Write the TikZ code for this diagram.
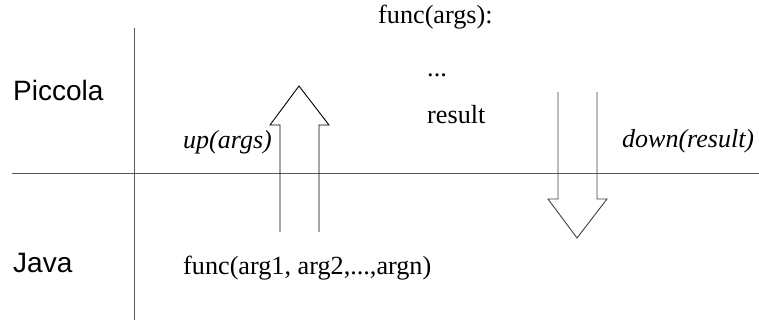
\documentclass[tikz,border=0pt]{standalone}
\usepackage{fontspec}
\setmainfont{Liberation Serif}
\newfontfamily\labelsans{Liberation Sans}
\begin{document}
\begin{tikzpicture}[x=1pt,y=-1pt,
  axis/.style={draw=black!65,line width=1pt},
  fatarrow/.style={draw=black,line width=0.9pt,line join=miter},
  layer/.style={anchor=base west,inner sep=0pt,font=\labelsans\fontsize{28}{31}\selectfont},
  code/.style={anchor=base west,inner sep=0pt,font=\fontsize{26.2}{29}\selectfont},
  call/.style={anchor=base west,inner sep=0pt,font=\itshape\fontsize{26}{29}\selectfont}]
  \useasboundingbox (0,0) rectangle (759,320);

  % layer separators
  \coordinate (vtop) at (134,28);
  \coordinate (vbot) at (134,320);
  \coordinate (hleft) at (12,174);
  \coordinate (hright) at (759,174);
  \draw[axis] (vtop) -- (vbot);
  \draw[axis] (hleft) -- (hright);

  % layer names
  \node[layer] (piccola) at (13,101) {Piccola};
  \node[layer] (java) at (13,272) {Java};

  % Piccola side code
  \node[code] (def) at (378,24) {func(args):};
  \node[code] (dots) at (427,77) {...};
  \node[code] (res) at (427,124) {result};

  % Java side call
  \node[code] (jcall) at (183,274) {func(arg1, arg2,...,argn)};

  % transition labels
  \node[call] (up) at (183,149) {up(args)};
  \node[call] (down) at (622,148) {down(result)};

  % upward hollow arrow
  \draw[fatarrow] (280,232) -- (280,125) -- (270,125) -- (299,86)
    -- (329,125) -- (319,125) -- (319,232);

  % downward hollow arrow
  \draw[fatarrow,draw=black!75] (558,92) -- (558,199) -- (548,199) -- (577,238)
    -- (607,199) -- (597,199) -- (597,92);
\end{tikzpicture}
\end{document}
